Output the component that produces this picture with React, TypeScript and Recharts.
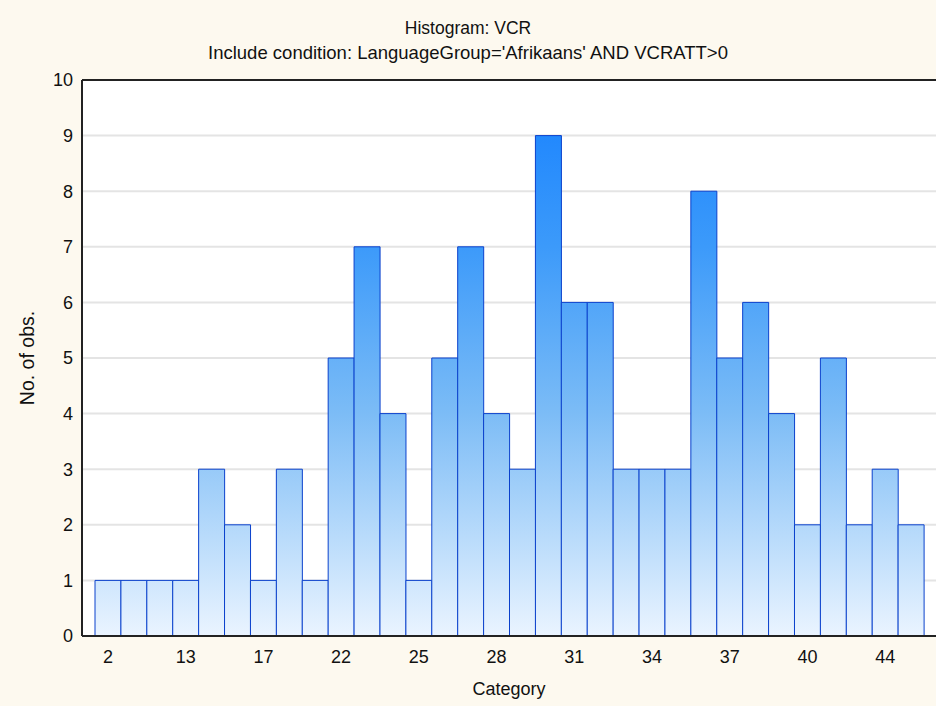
import React from "react";
import { BarChart, Bar, XAxis, YAxis, CartesianGrid } from "recharts";

const counts = [1, 1, 1, 1, 3, 2, 1, 3, 1, 5, 7, 4, 1, 5, 7, 4, 3, 9, 6, 6, 3, 3, 3, 8, 5, 6, 4, 2, 5, 2, 3, 2];
const tickLabels = ["2", "13", "17", "22", "25", "28", "31", "34", "37", "40", "44"];
const yTicks = [0, 1, 2, 3, 4, 5, 6, 7, 8, 9, 10];

const data = counts.map((v, i) => ({ bin: i, count: v }));

const W = 936;
const H = 706;
const M = { top: 80, right: 0, bottom: 40, left: 30 };
const X_AXIS_H = 30;
const Y_AXIS_W = 52;
const PLOT_TOP = M.top;
const PLOT_BOTTOM = H - M.bottom - X_AXIS_H;

const FONT = "'Liberation Sans', Arial, sans-serif";
const fmtX = (_v: any, i: number) => (i % 3 === 0 ? tickLabels[i / 3] ?? "" : "");

export default function App() {
  return (
    <div style={{ position: "absolute", left: 0, top: 0, width: W, height: H, background: "#FDF9EF", fontFamily: FONT, overflow: "hidden" }}>
      <div style={{ position: "absolute", left: 0, width: W, top: 17, lineHeight: "22px", fontSize: 17.5, textAlign: "center", color: "#111" }}>Histogram: VCR</div>
      <div style={{ position: "absolute", left: 0, width: W, top: 42, lineHeight: "22px", fontSize: 18.5, textAlign: "center", color: "#111" }}>Include condition: LanguageGroup='Afrikaans' AND VCRATT&gt;0</div>
      <div style={{ position: "absolute", left: 82, width: 854, top: 678, lineHeight: "22px", fontSize: 18, textAlign: "center", color: "#111" }}>Category</div>
      <div style={{ position: "absolute", left: 27 - 70, top: 358 - 11, width: 140, lineHeight: "22px", fontSize: 19.5, textAlign: "center", color: "#111", transform: "rotate(-90deg)" }}>No. of obs.</div>
      <BarChart width={W} height={H} data={data} margin={M} barCategoryGap={0} style={{ position: "absolute", left: 0, top: 0 }}>
        <defs>
          <linearGradient id="barGrad" gradientUnits="userSpaceOnUse" x1="0" y1={PLOT_TOP} x2="0" y2={PLOT_BOTTOM}>
            <stop offset="0" stopColor="#1580ff" />
            <stop offset="0.3" stopColor="#3c9afa" />
            <stop offset="0.6" stopColor="#7cbcf6" />
            <stop offset="1" stopColor="#eaf4ff" />
          </linearGradient>
        </defs>
        <CartesianGrid vertical={false} stroke="#e4e4e4" strokeWidth={2} fill="#ffffff" horizontalValues={yTicks} />
        <XAxis
          dataKey="bin"
          interval={0}
          padding={{ left: 13, right: 12 }}
          height={X_AXIS_H}
          tickLine={false}
          tickSize={6}
          tickMargin={8}
          tickFormatter={fmtX}
          axisLine={{ stroke: "#222", strokeWidth: 2 }}
          tick={{ fill: "#111", fontSize: 18, fontFamily: FONT }}
        />
        <XAxis xAxisId="bt" dataKey="bin" interval={0} padding={{ left: 13, right: 12 }} mirror tick={false} tickSize={4} axisLine={false} tickLine={{ stroke: "#111" }} />
        <XAxis xAxisId="top" orientation="top" dataKey="bin" interval={0} padding={{ left: 13, right: 12 }} mirror tick={false} tickSize={4} axisLine={{ stroke: "#222", strokeWidth: 2 }} tickLine={{ stroke: "#111" }} />
        <YAxis
          domain={[0, 10]}
          ticks={yTicks}
          width={Y_AXIS_W}
          tickLine={false}
          tickSize={6}
          tickMargin={3}
          axisLine={{ stroke: "#222", strokeWidth: 2 }}
          tick={{ fill: "#111", fontSize: 18, fontFamily: FONT }}
          allowDecimals={false}
        />
        <YAxis yAxisId="li" domain={[0, 10]} ticks={yTicks} mirror tick={false} tickSize={4} axisLine={false} tickLine={{ stroke: "#111" }} />
        <YAxis yAxisId="ri" orientation="right" domain={[0, 10]} ticks={yTicks} mirror tick={false} tickSize={4} axisLine={false} tickLine={{ stroke: "#111" }} />
        <Bar dataKey="count" fill="url(#barGrad)" stroke="#0a40cc" strokeWidth={1} isAnimationActive={false} />
      </BarChart>
    </div>
  );
}
